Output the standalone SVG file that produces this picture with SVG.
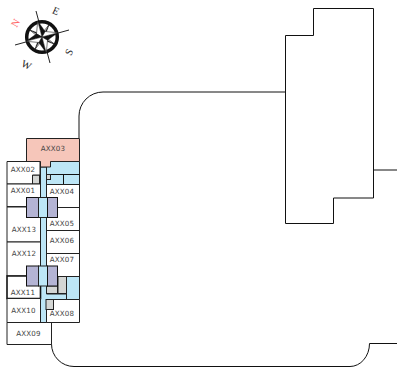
<svg xmlns="http://www.w3.org/2000/svg" width="397" height="367" viewBox="0 0 397 367">
<style>
.o{fill:none;stroke:#111;stroke-width:1}
.b{fill:#bde6f6;stroke:#222;stroke-width:1}
.w{fill:#fff;stroke:#222;stroke-width:1}
.t{fill:#fff;stroke:#111;stroke-width:1.6}
.l{fill:#b4b4d4;stroke:#111;stroke-width:1}
.g{fill:#d4d6d4;stroke:#222;stroke-width:1}
.p{fill:#111;stroke:#111;stroke-width:.3}
.q{fill:#fff;stroke:#111;stroke-width:.5}
text{font-family:"DejaVu Sans",sans-serif;font-size:7.100px;letter-spacing:.2px;fill:#444;text-anchor:middle;dominant-baseline:central}
text.c{font-family:"Liberation Serif",serif;font-size:10.500px;letter-spacing:0;font-style:normal;fill:#222}
</style>
<defs>
<path id="hb" d="M0 0L0 -16.500L4.500 -4.500Z"/>
<path id="hs" d="M0 0L0 -15L2 -2Z"/>
</defs>
<g id="site" class="connectors">
<path class="o" d="M79 138V116A24 24 0 0 1 103 92H285.500M51.500 344A22.500 22.500 0 0 0 74 366.500H350A19.500 23 0 0 0 369.500 343.500H397"/>
<path class="o" d="M373.500 170H397"/>
<path class="o" d="M285.500 223.500V35.500H313.500V8.500H373.500V198H333.500V223.500Z"/>
</g>
<g id="compass">
<path d="M36 11L50 63M15 45L69 30" stroke="#222" stroke-width="1" fill="none"/>
<circle cx="42" cy="37" r="15.300" fill="#fff" stroke="#111" stroke-width="3.500"/>
<g transform="translate(42 37) rotate(-15)">
<use href="#hs" class="p" transform="rotate(45)"/><use href="#hs" class="q" transform="rotate(45) scale(-1 1)"/>
<use href="#hs" class="p" transform="rotate(135)"/><use href="#hs" class="q" transform="rotate(135) scale(-1 1)"/>
<use href="#hs" class="p" transform="rotate(225)"/><use href="#hs" class="q" transform="rotate(225) scale(-1 1)"/>
<use href="#hs" class="p" transform="rotate(315)"/><use href="#hs" class="q" transform="rotate(315) scale(-1 1)"/>
<use href="#hb" class="p" transform="rotate(0)"/><use href="#hb" class="q" transform="rotate(0) scale(-1 1)"/>
<use href="#hb" class="p" transform="rotate(90)"/><use href="#hb" class="q" transform="rotate(90) scale(-1 1)"/>
<use href="#hb" class="p" transform="rotate(180)"/><use href="#hb" class="q" transform="rotate(180) scale(-1 1)"/>
<use href="#hb" class="p" transform="rotate(270)"/><use href="#hb" class="q" transform="rotate(270) scale(-1 1)"/>
</g>
<text class="c" x="15.500" y="23" transform="rotate(-60 15.500 23)" style="fill:#f66">N</text>
<text class="c" x="56" y="11" transform="rotate(25 56 11)">E</text>
<text class="c" x="69" y="52" transform="rotate(-65 69 52)">S</text>
<text class="c" x="26.500" y="65" transform="rotate(25 26.500 65)">W</text>
</g>
<g id="core">
<path class="b" d="M46.500 161.500H79.500V184.500H46.500ZM40.500 167V322.500H46.500V299.500H66.500V294H46.500V167Z"/>
<path class="b" d="M66.500 276.500H79.500V299.500H66.500Z"/>
<path class="o" d="M50.500 174.500H79.500M63.500 174.500V184.500"/>
<rect class="g" x="32.500" y="175" width="7" height="9"/>
<rect class="g" x="46.500" y="174.500" width="4" height="5"/>
<rect class="g" x="58" y="276.500" width="8.500" height="17"/>
<rect class="g" x="46.500" y="286" width="11" height="7.500"/>
</g>
<g id="AXX03"><path d="M26.500 138.500H79.500V161.500H50.500V167H40.500V161.500H26.500Z" fill="#f6c6ba" stroke="#222"/><text x="53" y="148">AXX03</text></g>
<g id="AXX02"><path class="w" d="M7 161.500H40V175H32.500V184H7Z"/><text x="23" y="169">AXX02</text></g>
<g id="AXX01"><path class="w" d="M7 184H40.500V207H7Z"/><path d="M7 207H26" stroke="#111" stroke-width="1.600"/><text x="23" y="190">AXX01</text></g>
<g id="AXX04"><rect class="w" x="46.500" y="184.500" width="33" height="23"/><text x="62" y="191">AXX04</text></g>
<g id="AXX13"><path class="w" d="M7 207H40.500V242H7Z"/><text x="24" y="229.500">AXX13</text></g>
<g id="AXX12"><path class="w" d="M7 242H40.500V276H7Z"/><text x="24" y="253">AXX12</text></g>
<g id="AXX11"><path class="t" d="M7 276H40.500V298.500H7Z"/><text x="23" y="292.500">AXX11</text></g>
<g id="AXX10"><path class="w" d="M7 298.500H40.500V322.500H7Z"/><text x="23.500" y="310">AXX10</text></g>
<g id="AXX09"><path class="w" d="M7 322.500H51.500V344.500H7Z"/><text x="28.500" y="333.500">AXX09</text></g>
<g id="AXX05"><rect class="w" x="46.500" y="207.500" width="33" height="23"/><text x="62" y="223">AXX05</text></g>
<g id="AXX06"><rect class="w" x="46.500" y="230.500" width="33" height="23"/><text x="62" y="240">AXX06</text></g>
<g id="AXX07"><rect class="w" x="46.500" y="253.500" width="33" height="23"/><text x="62" y="259">AXX07</text></g>
<g id="AXX08"><path class="w" d="M46.500 299.500H79.500V322.500H46.500Z"/><rect class="g" x="46" y="299.500" width="7.500" height="10"/><text x="62" y="313.500">AXX08</text></g>
<g id="stair1"><rect class="l" x="26.500" y="197.500" width="12" height="20"/><rect class="b" x="38.500" y="197.500" width="9" height="20"/><rect class="l" x="47.500" y="197.500" width="10" height="20"/></g>
<g id="stair2"><rect class="l" x="26.500" y="266" width="12" height="20"/><rect class="b" x="38.500" y="266" width="9" height="20"/><rect class="l" x="47.500" y="266" width="10" height="20"/></g>
</svg>
